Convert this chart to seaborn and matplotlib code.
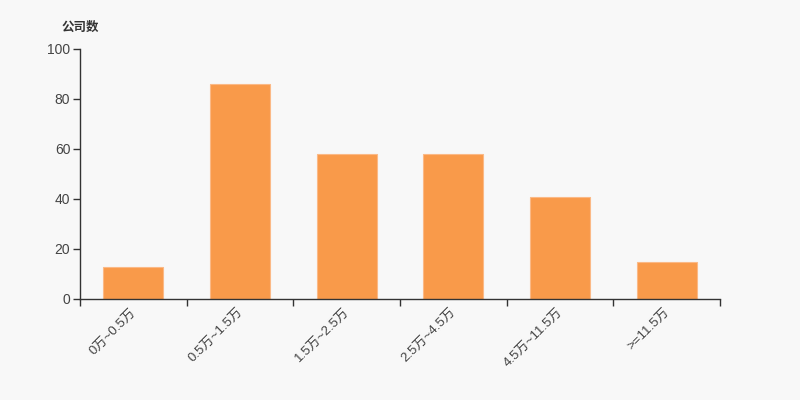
import matplotlib
matplotlib.use("Agg")
import matplotlib.pyplot as plt
import matplotlib.transforms as mtransforms
import seaborn as sns
import pandas as pd

# Données
categories = ["0万~0.5万", "0.5万~1.5万", "1.5万~2.5万", "2.5万~4.5万", "4.5万~11.5万", ">=11.5万"]
counts = [13, 86, 58, 58, 41, 15]

df = pd.DataFrame({"tranche": categories, "nb": counts})

sns.set_style("white")
plt.rcParams["font.family"] = ["Liberation Sans", "Noto Sans CJK SC", "DejaVu Sans"]

bg = "#f8f8f8"
fig = plt.figure(figsize=(8, 4), dpi=100, facecolor=bg)
ax = fig.add_axes([0.1, 0.2525, 0.8, 0.625])
ax.set_facecolor(bg)

sns.barplot(data=df, x="tranche", y="nb", color="#f99a4a", saturation=1,
            width=0.56, edgecolor="#fbb986", linewidth=0.8, ax=ax)

ax.set_ylim(0, 100)
ax.set_xlim(-0.5, len(categories) - 0.5)
ax.set_yticks([0, 20, 40, 60, 80, 100])
ax.set_xlabel("")
ax.set_ylabel("")

# ticks aux frontières des catégories
ax.set_xticks([i - 0.5 for i in range(len(categories) + 1)], minor=False)
ax.set_xticklabels([])
ax.set_xticks(range(len(categories)), minor=True)
ax.set_xticklabels(categories, minor=True, rotation=45, ha="right", va="top",
                   fontsize=9.5, color="#444444")
ax.tick_params(axis="x", which="major", bottom=True, length=5, width=1,
               color="#333333", direction="out")
ax.tick_params(axis="x", which="minor", bottom=True, length=0, pad=5)
ax.tick_params(axis="y", left=True, length=5, width=1, color="#333333", labelsize=10,
               labelcolor="#444444", pad=2)

# petit décalage des étiquettes vers la droite
offset = mtransforms.ScaledTranslation(5 / 100, 0, fig.dpi_scale_trans)
for lab in ax.get_xticklabels(minor=True):
    lab.set_transform(lab.get_transform() + offset)

for s in ["top", "right"]:
    ax.spines[s].set_visible(False)
for s in ["left", "bottom"]:
    ax.spines[s].set_color("#333333")
    ax.spines[s].set_linewidth(1)

fig.text(0.0775, 0.93, "公司数", fontsize=9, fontweight="bold", color="#333333",
         ha="left", va="center")

fig.savefig("out.png", dpi=100, facecolor=bg)
